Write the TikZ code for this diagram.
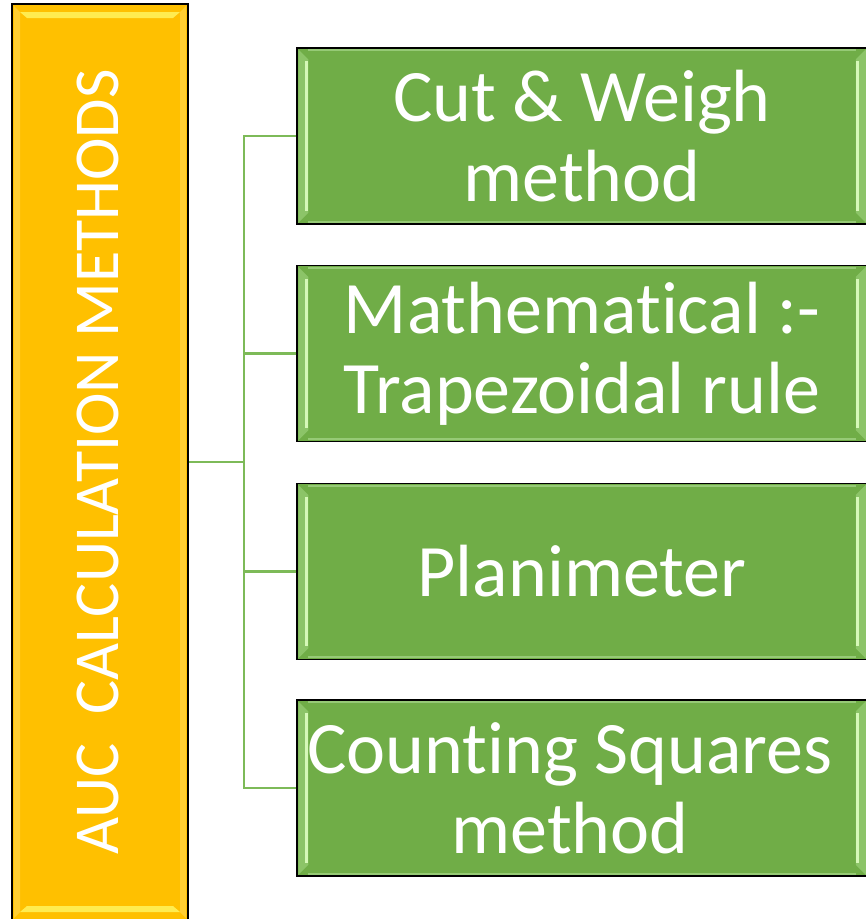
\documentclass[tikz,border=0pt]{standalone}
\usepackage{fontspec}
\setmainfont{Carlito}[Ligatures={NoCommon,NoRare,NoContextual}]
\usetikzlibrary{calc}
\definecolor{orgfill}{RGB}{255,192,0}
\definecolor{orghi}{RGB}{255,236,80}
\definecolor{orgside}{RGB}{255,206,50}
\definecolor{gfill}{RGB}{112,173,71}
\definecolor{gmid}{RGB}{140,196,104}
\definecolor{ghi}{RGB}{214,248,184}
\definecolor{gband}{RGB}{150,202,118}
\definecolor{conncol}{RGB}{125,186,88}
\begin{document}
\begin{tikzpicture}[x=1pt,y=-1pt,
  obox/.style={draw=black, line width=1.5pt, fill=orgfill, minimum width=176, minimum height=919, inner sep=0},
  otext/.style={rotate=90, text=white, font=\fontsize{64}{64}\selectfont, inner sep=0},
  gbox/.style={draw=black, line width=1.5pt, fill=gfill, minimum width=570, minimum height=176, inner sep=0},
  gtext/.style={text=white, align=center, font=\fontsize{74}{80}\selectfont, inner sep=0},
  conn/.style={draw=conncol, line width=2.5pt}]
\useasboundingbox (0,0) rectangle (866,919);
\clip (0,0) rectangle (866,919);
% orange box
\node[obox] (auc) at (100,463.5) {};
\fill[orgside] (14,6) -- (20,12) -- (20,912) -- (14,918) -- cycle;
\fill[orgside] (186,6) -- (180,12) -- (180,912) -- (186,918) -- cycle;
\fill[orghi] (20,12) -- (180,12) -- (173,18) -- (27,18) -- cycle;
\fill[orghi] (27,906) -- (173,906) -- (180,912) -- (20,912) -- cycle;
\node[otext] (auct) at (98,462) {AUC\ \ CALCULATION METHODS};
% green boxes
\node[gbox] (b1) at (582,136) {};
\node[gbox] (b2) at (582,353.5) {};
\node[gbox] (b3) at (582,571.5) {};
\node[gbox] (b4) at (582,788) {};
\foreach \b in {b1,b2,b3,b4}{
  \fill[gmid] ($(\b.north west)+(2,2)$) -- ($(\b.north west)+(12,12)$) -- ($(\b.south west)+(12,-12)$) -- ($(\b.south west)+(2,-2)$) -- cycle;
  \fill[gmid] ($(\b.north east)+(-2,2)$) -- ($(\b.north east)+(-12,12)$) -- ($(\b.south east)+(-12,-12)$) -- ($(\b.south east)+(-2,-2)$) -- cycle;
  \draw[ghi, line width=3pt] ($(\b.north west)+(10.5,14)$) -- ($(\b.south west)+(10.5,-14)$);
  \draw[ghi, line width=3pt] ($(\b.north east)+(-10.5,14)$) -- ($(\b.south east)+(-10.5,-14)$);
  \draw[gband, line width=2pt] ($(\b.north west)+(12,3)$) -- ($(\b.north east)+(-12,3)$);
  \draw[gband, line width=2pt] ($(\b.south west)+(12,-3)$) -- ($(\b.south east)+(-12,-3)$);
}
\node[gtext] (t1) at (b1) {Cut \& Weigh\\method};
\node[gtext] (t2) at (b2) {Mathemat\kern0pt ical :-\\Trapezoidal rule};
\node[gtext] (t3) at (b3) {Planimeter};
\node[gtext, xshift=-12pt] (t4) at (b4) {Count\kern0pt ing Squares\\method};
% connectors
\coordinate (j) at (244,462);
\draw[conn] (auc.east |- j) -- (j);
\foreach \b in {b1,b2,b3,b4}{
  \draw[conn] (\b.west) -| (j);
}
\end{tikzpicture}
\end{document}
